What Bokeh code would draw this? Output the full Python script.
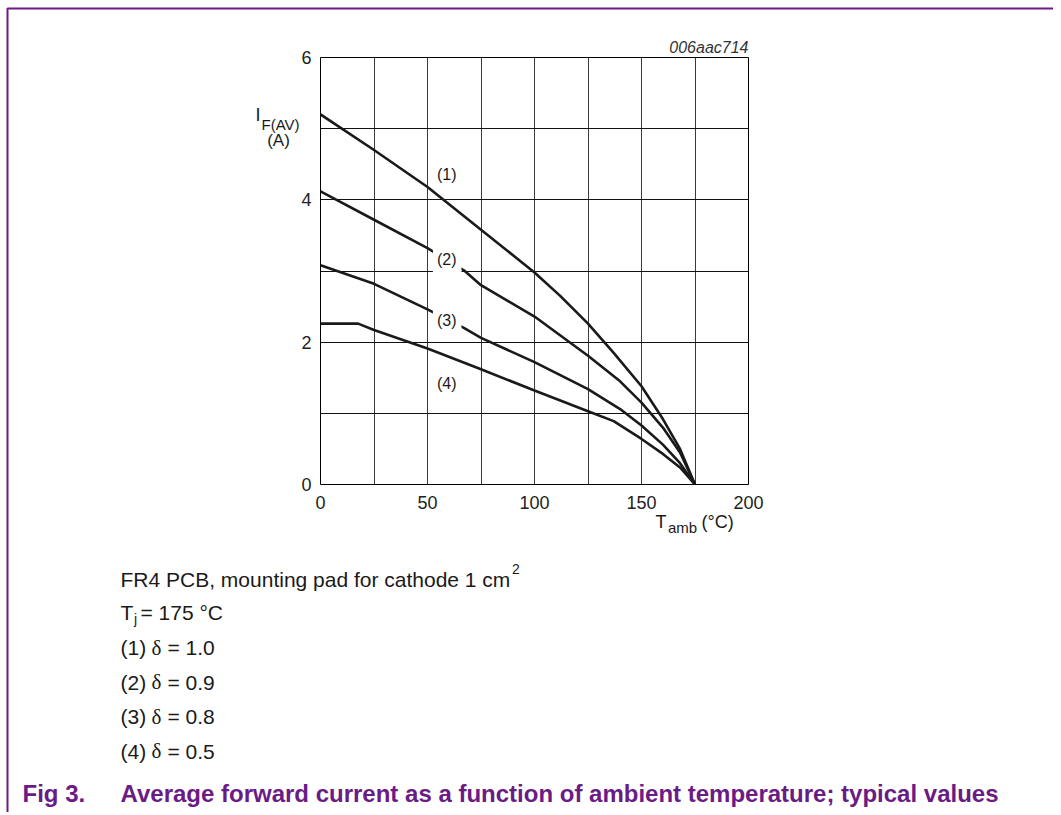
from bokeh.plotting import figure
from bokeh.models import Label, FixedTicker, Range1d
from bokeh.layouts import column
from bokeh.core.properties import value
from bokeh.embed import file_html
from bokeh.resources import INLINE

# ---------------- data ----------------
t1 = [0, 25, 50, 75, 100, 112, 125, 137, 150, 160, 168, 175]
i1 = [5.2, 4.7, 4.18, 3.58, 2.98, 2.65, 2.26, 1.85, 1.38, 0.92, 0.5, 0]

t2 = [0, 25, 50, 67, 75, 100, 125, 140, 150, 160, 168, 175]
i2 = [4.12, 3.72, 3.32, 3.01, 2.8, 2.36, 1.81, 1.45, 1.15, 0.8, 0.45, 0]

t3 = [0, 25, 50, 67, 75, 100, 125, 140, 150, 160, 168, 175]
i3 = [3.08, 2.82, 2.46, 2.2, 2.06, 1.72, 1.34, 1.06, 0.83, 0.56, 0.3, 0]

t4 = [0, 17.6, 25, 50, 75, 100, 125, 137, 150, 160, 168, 175]
i4 = [2.26, 2.26, 2.17, 1.91, 1.62, 1.32, 1.03, 0.89, 0.64, 0.43, 0.24, 0]

curve_labels = ["(1)", "(2)", "(3)", "(4)"]
x_ticks = [0, 50, 100, 150, 200]
y_ticks = [0, 2, 4, 6]
x_grid = [25, 50, 75, 100, 125, 150, 175]
y_grid = [1, 2, 3, 4, 5]

note1 = "FR4 PCB, mounting pad for cathode 1 cm"
note2 = ("T", "j", "= 175 \u00b0C")
deltas = [("(1)", "= 1.0"), ("(2)", "= 0.9"), ("(3)", "= 0.8"), ("(4)", "= 0.5")]
caption_no = "Fig 3."
caption = "Average forward current as a function of ambient temperature; typical values"
code = "006aac714"

PURPLE = "#6A1B86"
INK = "#1a1a1a"
SANS = "Liberation Sans"
SERIF = "Liberation Serif"

# ---------------- page geometry (pixels) ----------------
W, H = 1053, 812
FL, FT, FW, FH = 320, 57, 428, 427       # chart frame on the page
BORDER_X, BORDER_Y = 7, 8

# ---------------- page layer: texts around the chart ----------------
pg = figure(width=W, height=H, x_range=Range1d(0, W), y_range=Range1d(H, 0),
            output_backend="svg", toolbar_location=None, min_border=0,
            x_axis_location=None, y_axis_location=None, frame_align=False)
pg.grid.visible = False
pg.outline_line_color = None
pg.background_fill_color = "white"
pg.border_fill_color = "white"


def put(text, xp, yp, size, color=INK, font=SANS, style="normal", align="left"):
    # yp is the wanted baseline; the text glyph sits ~0.37em lower, so compensate
    pg.text(x=[xp], y=[yp - 0.37 * size], text=[text], text_font=value(font),
            text_font_size=value(f"{size}px"), text_color=color,
            text_font_style=style, text_align=align, text_baseline="alphabetic")


# purple page border (top and left)
pg.line(x=[W, BORDER_X, BORDER_X], y=[BORDER_Y, BORDER_Y, H],
        line_color=PURPLE, line_width=2)

# y-axis title
put("I", 255, 121, 18)
put("F(AV)", 261, 129.5, 15)
put("(A)", 278, 146, 17, align="center")
# x-axis title
put("T", 655, 528.5, 18)
put("amb", 667.5, 532.5, 15)
put("(\u00b0C)", 701, 528.5, 18)

# notes
LX = 120
put(note1, LX, 587, 21)
put("2", 511.5, 574, 14)
put(note2[0], LX, 620, 21)
put(note2[1], LX + 13.5, 624, 14)
put(note2[2], LX + 20, 620, 21)
for k, (num, val) in enumerate(deltas):
    yb = 655 + k * 34.5
    put(num, LX, yb, 21)
    put("\u03b4", LX + 31, yb, 21, font=SERIF)
    put(val, LX + 47, yb, 21)

# caption
put(caption_no, 22, 802, 24, color=PURPLE, style="bold")
put(caption, LX, 802, 24, color=PURPLE, style="bold")

# ---------------- chart layer (overlaid on the page layer) ----------------
p = figure(width=W, height=H, x_range=Range1d(0, 200), y_range=Range1d(0, 6),
           output_backend="svg", toolbar_location=None,
           min_border_left=FL, min_border_right=W - FL - FW,
           min_border_top=FT, min_border_bottom=H - FT - FH,
           frame_align=False, styles={"margin-top": f"-{H}px"})
p.background_fill_color = "white"
p.border_fill_alpha = 0
p.outline_line_color = "black"
p.outline_line_width = 1

p.title.text = code
p.title.align = "right"
p.title.text_font = SANS
p.title.text_font_style = "italic"
p.title.text_font_size = "16px"
p.title.text_color = "#333333"
p.title.standoff = 4

for ax, ticks in ((p.xaxis, x_ticks), (p.yaxis, y_ticks)):
    ax.ticker = FixedTicker(ticks=ticks)
    ax.axis_line_color = None
    ax.major_tick_line_color = None
    ax.minor_tick_line_color = None
    ax.major_tick_out = 0
    ax.major_label_text_font = SANS
    ax.major_label_text_font_size = "18px"
    ax.major_label_text_color = "#222222"
p.xaxis.major_label_standoff = 11
p.yaxis.major_label_standoff = 9

p.xgrid.ticker = FixedTicker(ticks=x_grid)
p.ygrid.ticker = FixedTicker(ticks=y_grid)
p.xgrid.grid_line_color = "#3a3a3a"
p.ygrid.grid_line_color = "#111111"
for g in (p.xgrid, p.ygrid):
    g.grid_line_width = 1
    g.grid_line_alpha = 1

for t, i in ((t1, i1), (t2, i2), (t3, i3), (t4, i4)):
    p.line(t, i, line_color=INK, line_width=2.6, line_join="round")


# curve labels; white boxes interrupt curves/grid as in the reference
def dx(xp):
    return (xp - FL) * 200 / FW


def dy(yp):
    return (FT + FH - yp) * 6 / FH


label_pos = [(446.7, 172.5), (446.7, 258), (446.7, 318.5), (446.7, 382)]
for txt, (xp, yp) in zip(curve_labels, label_pos):
    p.add_layout(Label(x=dx(xp), y=dy(yp), text=txt, text_font=SANS,
                       text_font_size="16px", text_color=INK,
                       text_align="center", text_baseline="middle",
                       background_fill_color="white", padding=(4, 5, 7, 5)))

page = column(pg, p)
open("out.html", "w").write(file_html(page, INLINE))
